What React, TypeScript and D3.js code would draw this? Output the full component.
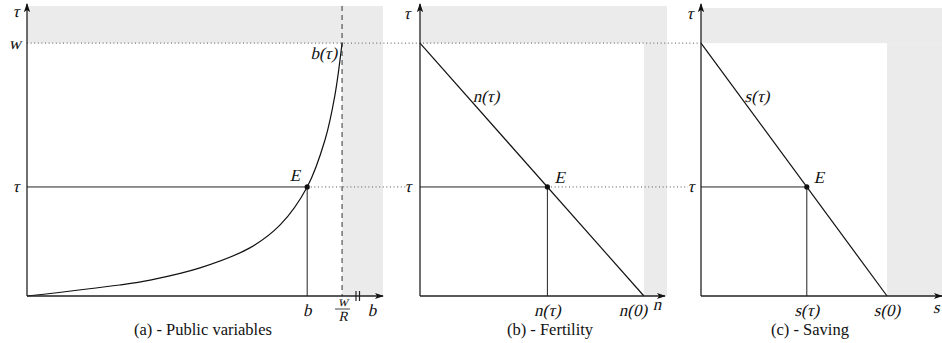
import React from "react";
import * as d3 from "d3";

// Public-good curve b(τ): sampled points (b, τ)
const curveB = [0, 26, 34.6, 48.6, 62.6, 71.1, 78.7, 83.7, 86.5, 88.5];
const curveTau = [0, 3.8, 5.5, 9.7, 16.6, 24.5, 37.6, 53.8, 69.3, 87.2];

// Key levels
const tauW = 87.2; // τ = w
const tauE = 37.6; // equilibrium τ
const bE = 78.7; // equilibrium b
const bMax = 88.5; // w/R asymptote
const nZero = 91.4; // n(0)
const nE = 52.0; // n(τ)
const sZero = 77.2; // s(0)
const sE = 43.9; // s(τ)

const captions = ["(a) - Public variables", "(b) - Fertility", "(c) - Saving"];

const W = 942;
const H = 343;
const Y0 = 296;
const yScale = d3.scaleLinear().domain([0, 100]).range([Y0, 6]);

const panels = [
  { x0: 27, x1: 383, grayEnd: 383, top: 6 },
  { x0: 420, x1: 665, grayEnd: 667, top: 6 },
  { x0: 701, x1: 942, grayEnd: 942, top: 8 },
];

const xA = d3.scaleLinear().domain([0, 100]).range([27, 383]);
const xB = d3.scaleLinear().domain([0, 100]).range([420, 665]);
const xC = d3.scaleLinear().domain([0, 100]).range([701, 942]);

const GRAY = "#ebebeb";
const AXIS = "#333";
const SERIF = "Liberation Serif";

function Arrows() {
  return (
    <defs>
      <marker id="arr" viewBox="0 0 10 10" refX="9" refY="5" markerWidth="7" markerHeight="7" orient="auto">
        <path d="M0,1.5 L10,5 L0,8.5 L2.5,5 Z" fill="#111" />
      </marker>
    </defs>
  );
}

// Math label: upright serif slanted into an italic shape
function M({ x, y, children, anchor = "middle", size = 17 }: any) {
  return (
    <text
      transform={`translate(${x},${y}) skewX(-13)`}
      textAnchor={anchor}
      fontFamily={SERIF}
      fontSize={size}
      fill="#111"
    >
      {children}
    </text>
  );
}

export default function App() {
  const line = d3
    .line<number>()
    .x((_, i) => xA(curveB[i]))
    .y((_, i) => yScale(curveTau[i]))
    .curve(d3.curveCatmullRom.alpha(0.5));
  const curvePath = line(curveB) || "";

  const yW = yScale(tauW);
  const yE = yScale(tauE);
  const dotted = { stroke: "#555", strokeWidth: 1, strokeDasharray: "1 2.6" };

  const grayRegions = [
    { p: panels[0], split: xA(bMax) },
    { p: panels[1], split: xB(nZero) },
    { p: panels[2], split: xC(sZero) },
  ];

  return (
    <svg width={W} height={H} style={{ position: "absolute", left: 0, top: 0, background: "#fff" }}>
      <Arrows />
      {/* shaded infeasible regions */}
      {grayRegions.map(({ p, split }, i) => (
        <g key={i} fill={GRAY}>
          <rect x={p.x0} y={p.top} width={p.grayEnd - p.x0} height={yW - p.top} />
          <rect x={split} y={yW} width={p.grayEnd - split} height={Y0 - yW} />
        </g>
      ))}

      {/* τ = w reference line */}
      <line x1={xA(0)} x2={xC(0)} y1={yW} y2={yW} {...dotted} />
      {/* equilibrium τ links */}
      <line x1={xA(bE)} x2={xB(0) - 14} y1={yE} y2={yE} {...dotted} />
      <line x1={xB(nE)} x2={xC(0) - 13} y1={yE} y2={yE} {...dotted} />

      {/* Panel (a) */}
      <line x1={xA(bMax)} x2={xA(bMax)} y1={6} y2={Y0} stroke={AXIS} strokeWidth={1} strokeDasharray="5 4" />
      <line x1={xA(0)} x2={xA(bE)} y1={yE} y2={yE} stroke="#222" strokeWidth={1} />
      <line x1={xA(bE)} x2={xA(bE)} y1={yE} y2={Y0} stroke="#222" strokeWidth={1} />
      <path d={curvePath} fill="none" stroke="#111" strokeWidth={1.2} />
      <circle cx={xA(bE)} cy={yE} r={2.6} fill="#111" />

      {/* Panel (b) */}
      <line x1={xB(0)} x2={xB(nE)} y1={yE} y2={yE} stroke="#222" strokeWidth={1} />
      <line x1={xB(nE)} x2={xB(nE)} y1={yE} y2={Y0} stroke="#222" strokeWidth={1} />
      <line x1={xB(0)} y1={yW} x2={xB(nZero)} y2={Y0} stroke="#111" strokeWidth={1.2} />
      <circle cx={xB(nE)} cy={yE} r={2.6} fill="#111" />

      {/* Panel (c) */}
      <line x1={xC(0)} x2={xC(sE)} y1={yE} y2={yE} stroke="#222" strokeWidth={1} />
      <line x1={xC(sE)} x2={xC(sE)} y1={yE} y2={Y0} stroke="#222" strokeWidth={1} />
      <line x1={xC(0)} y1={yW} x2={xC(sZero)} y2={Y0} stroke="#111" strokeWidth={1.2} />
      <circle cx={xC(sE)} cy={yE} r={2.6} fill="#111" />

      {/* Axes */}
      {panels.map((p, i) => (
        <g key={i} stroke="#222" strokeWidth={1.3}>
          <line x1={p.x0} y1={Y0} x2={p.x0} y2={4} markerEnd="url(#arr)" />
          <line x1={p.x0} y1={Y0} x2={p.x1} y2={Y0} markerEnd="url(#arr)" />
        </g>
      ))}
      {/* axis break */}
      <g stroke="#222" strokeWidth={1.2}>
        <line x1={356} x2={356} y1={291} y2={301} />
        <line x1={359.5} x2={359.5} y1={291} y2={301} />
      </g>

      {/* Labels panel (a) */}
      <M x={16} y={17}>τ</M>
      <M x={15} y={49}>w</M>
      <M x={16} y={192}>τ</M>
      <M x={xA(bMax) - 5} y={59} anchor="end">b(τ)</M>
      <M x={xA(bE) - 7} y={181} anchor="end">E</M>
      <M x={xA(bE)} y={316}>b</M>
      <M x={xA(bMax) + 1} y={306} size={14}>w</M>
      <line x1={xA(bMax) - 7} x2={xA(bMax) + 8} y1={309} y2={309} stroke="#111" strokeWidth={0.8} />
      <M x={xA(bMax) + 1} y={321} size={14}>R</M>
      <M x={372} y={316}>b</M>

      {/* Labels panel (b) */}
      <M x={407} y={19}>τ</M>
      <M x={408} y={192}>τ</M>
      <M x={486} y={102}>n(τ)</M>
      <M x={xB(nE) + 7} y={183} anchor="start">E</M>
      <M x={xB(nE)} y={316}>n(τ)</M>
      <M x={xB(nZero) - 11} y={316}>n(0)</M>
      <M x={657} y={310}>n</M>

      {/* Labels panel (c) */}
      <M x={690} y={19}>τ</M>
      <M x={691} y={192}>τ</M>
      <M x={757} y={102}>s(τ)</M>
      <M x={xC(sE) + 7} y={183} anchor="start">E</M>
      <M x={xC(sE)} y={316}>s(τ)</M>
      <M x={xC(sZero)} y={316}>s(0)</M>
      <M x={933} y={313} anchor="start">s</M>

      {/* Captions */}
      {captions.map((c, i) => (
        <text key={i} x={[203, 550, 810][i]} y={335} textAnchor="middle" fontFamily={SERIF} fontSize={16.5} fill="#111">
          {c}
        </text>
      ))}
    </svg>
  );
}
